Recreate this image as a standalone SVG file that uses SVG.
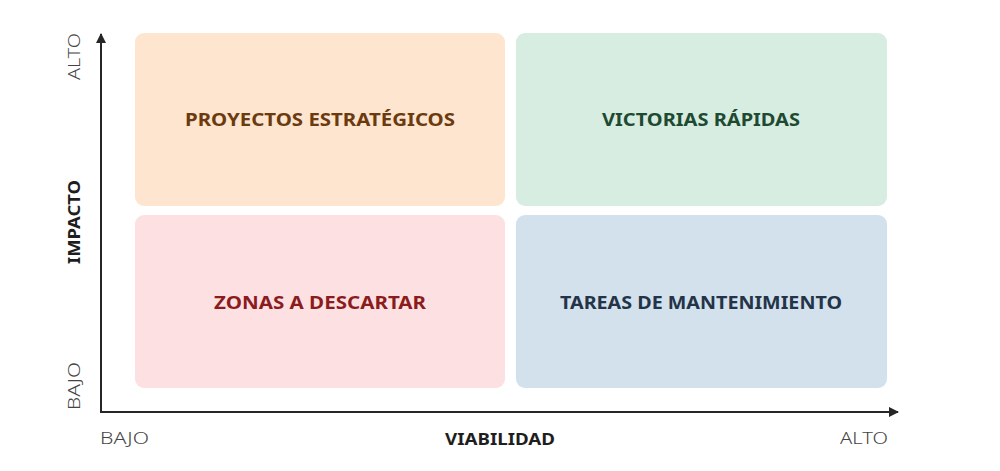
<svg xmlns="http://www.w3.org/2000/svg" width="1000" height="471" viewBox="0 0 1000 471">
<defs>
<style>
.q{font-family:"Noto Sans","DejaVu Sans",sans-serif;font-weight:700;font-size:17px;text-anchor:middle}
.ax{font-family:"Noto Sans","DejaVu Sans",sans-serif;font-weight:700;font-size:16px;fill:#1e1e1e;text-anchor:middle}
.lv{font-family:"Noto Sans","DejaVu Sans",sans-serif;font-weight:300;font-size:16px;fill:#444}
.axis{stroke:#262626;stroke-width:2;fill:none}
</style>
<marker id="ah" viewBox="0 0 10 10" refX="9" refY="5" markerWidth="5" markerHeight="5" orient="auto" markerUnits="strokeWidth">
<path d="M0,0 L10,5 L0,10 z" fill="#262626"/>
</marker>
</defs>
<rect width="1000" height="471" fill="#ffffff"/>
<g id="q-proyectos">
<rect x="135" y="33" width="370" height="173" rx="9" fill="#FDE5D0"/>
<text class="q" x="320" y="126" fill="#6B3A0E" textLength="270" lengthAdjust="spacingAndGlyphs">PROYECTOS ESTRATÉGICOS</text>
</g>
<g id="q-victorias">
<rect x="516" y="33" width="371" height="173" rx="9" fill="#D7EDE1"/>
<text class="q" x="701" y="126" fill="#1E4A32" textLength="198" lengthAdjust="spacingAndGlyphs">VICTORIAS RÁPIDAS</text>
</g>
<g id="q-zonas">
<rect x="135" y="215" width="370" height="173" rx="9" fill="#FDE1E2"/>
<text class="q" x="320" y="309" fill="#8B1C1E" textLength="212" lengthAdjust="spacingAndGlyphs">ZONAS A DESCARTAR</text>
</g>
<g id="q-tareas">
<rect x="516" y="215" width="371" height="173" rx="9" fill="#D3E1EC"/>
<text class="q" x="701" y="309" fill="#233449" textLength="282" lengthAdjust="spacingAndGlyphs">TAREAS DE MANTENIMIENTO</text>
</g>
<g id="connectors">
<line class="axis" x1="101" y1="413" x2="101" y2="34" marker-end="url(#ah)"/>
<line class="axis" x1="100" y1="412" x2="898" y2="412" marker-end="url(#ah)"/>
</g>
<g id="labels">
<text class="ax" transform="translate(80,222) rotate(-90)" textLength="84" lengthAdjust="spacingAndGlyphs">IMPACTO</text>
<text class="ax" x="500" y="445" textLength="110" lengthAdjust="spacingAndGlyphs">VIABILIDAD</text>
<text class="lv" transform="translate(80,80) rotate(-90)" textLength="47" lengthAdjust="spacingAndGlyphs">ALTO</text>
<text class="lv" transform="translate(80,410) rotate(-90)" textLength="48" lengthAdjust="spacingAndGlyphs">BAJO</text>
<text class="lv" x="100" y="444" textLength="49" lengthAdjust="spacingAndGlyphs">BAJO</text>
<text class="lv" x="840" y="444" textLength="48" lengthAdjust="spacingAndGlyphs">ALTO</text>
</g>
</svg>
